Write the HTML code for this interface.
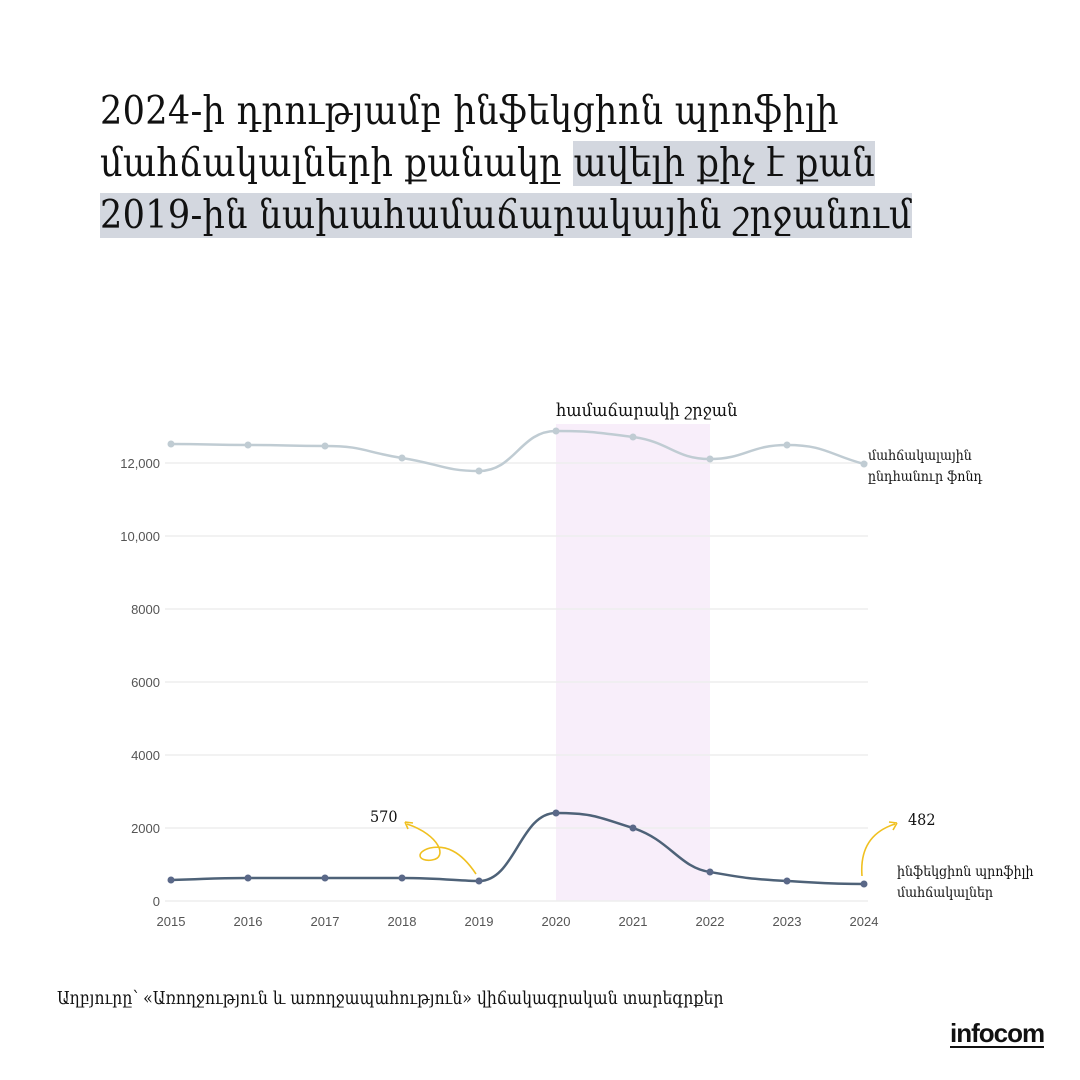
<!DOCTYPE html>
<html><head><meta charset="utf-8"><style>
html,body{margin:0;padding:0;background:#fff;width:1080px;height:1080px;overflow:hidden}
.t{position:absolute;left:100px;top:86px;font-family:"DejaVu Serif","Liberation Serif",serif;font-stretch:condensed;font-size:39px;line-height:52px;color:#111;letter-spacing:0.3px}
.hl{background:#d3d7df}
svg{position:absolute;left:0;top:0}
</style></head><body>
<div class="t">2024-ի դրությամբ ինֆեկցիոն պրոֆիլի<br>մահճակալների  քանակը <span class="hl">ավելի քիչ է քան</span><br><span class="hl">2019-ին նախահամաճարակային շրջանում </span></div>
<svg width="1080" height="1080" xmlns="http://www.w3.org/2000/svg">
<rect x="556" y="424" width="154" height="477" fill="#f8eefa"/>
<g stroke="#eeeeee" stroke-width="1.5">
<line x1="165" y1="463" x2="868" y2="463"/><line x1="165" y1="536" x2="868" y2="536"/>
<line x1="165" y1="609" x2="868" y2="609"/><line x1="165" y1="682" x2="868" y2="682"/>
<line x1="165" y1="755" x2="868" y2="755"/><line x1="165" y1="828" x2="868" y2="828"/>
<line x1="165" y1="901" x2="868" y2="901"/></g>
<g font-family="Liberation Sans,sans-serif" font-size="13" fill="#555" text-anchor="end">
<text x="160" y="468">12,000</text><text x="160" y="541">10,000</text><text x="160" y="614">8000</text>
<text x="160" y="687">6000</text><text x="160" y="760">4000</text><text x="160" y="833">2000</text><text x="160" y="906">0</text></g>
<g font-family="Liberation Sans,sans-serif" font-size="13" fill="#555" text-anchor="middle">
<text x="171" y="926">2015</text><text x="248" y="926">2016</text><text x="325" y="926">2017</text><text x="402" y="926">2018</text><text x="479" y="926">2019</text><text x="556" y="926">2020</text><text x="633" y="926">2021</text><text x="710" y="926">2022</text><text x="787" y="926">2023</text><text x="864" y="926">2024</text></g>
<path d="M171,444 C210,444 210,445 248,445 C287,445 287,446 325,446 C364,446 364,452 402,458 C440,464 445,471 479,471 C515,471 520,431 556,431 C595,431 600,433 633,437 C670,442 675,459 710,459 C745,459 750,445 787,445 C825,445 830,455 864,464" fill="none" stroke="#c0ccd3" stroke-width="2.5"/>
<g fill="#c0ccd3"><circle cx="171" cy="444" r="3.5"/><circle cx="248" cy="445" r="3.5"/><circle cx="325" cy="446" r="3.5"/><circle cx="402" cy="458" r="3.5"/><circle cx="479" cy="471" r="3.5"/><circle cx="556" cy="431" r="3.5"/><circle cx="633" cy="437" r="3.5"/><circle cx="710" cy="459" r="3.5"/><circle cx="787" cy="445" r="3.5"/><circle cx="864" cy="464" r="3.5"/></g>
<path d="M171,880 C210,879 210,878 248,878 L402,878 C440,878 460,881 479,881 C515,881 520,813 556,813 C595,813 600,818 633,828 C670,840 680,868 710,872 C745,878 750,879 787,881 C825,883 830,884 864,884" fill="none" stroke="#4e6278" stroke-width="2.5"/>
<g fill="#5a6888"><circle cx="171" cy="880" r="3.5"/><circle cx="248" cy="878" r="3.5"/><circle cx="325" cy="878" r="3.5"/><circle cx="402" cy="878" r="3.5"/><circle cx="479" cy="881" r="3.5"/><circle cx="556" cy="813" r="3.5"/><circle cx="633" cy="828" r="3.5"/><circle cx="710" cy="872" r="3.5"/><circle cx="787" cy="881" r="3.5"/><circle cx="864" cy="884" r="3.5"/></g>
<g fill="none" stroke="#f0c020" stroke-width="1.6">
<path d="M476,874 C460,850 445,845 430,848 C415,852 418,862 432,860 C448,858 440,835 407,824"/>
<path d="M405,822 l8,1 M405,822 l3,7"/>
<path d="M862,876 C860,850 870,832 895,824"/>
<path d="M897,823 l-8,-1 M897,823 l-4,7"/>
</g>
<g font-family="DejaVu Serif,Liberation Serif,serif" fill="#111" style="font-stretch:condensed">
<text x="370" y="822" font-size="16">570</text>
<text x="908" y="825" font-size="16">482</text>
<text x="556" y="416" font-size="18">համաճարակի շրջան</text>
<text x="868" y="460" font-size="14">մահճակալային</text>
<text x="868" y="481" font-size="14">ընդհանուր  ֆոնդ</text>
<text x="897" y="876" font-size="14">ինֆեկցիոն պրոֆիլի</text>
<text x="897" y="897" font-size="14">մահճակալներ</text>
<text x="57" y="1004" font-size="17.5">Աղբյուրը՝ «Առողջություն և առողջապահություն» վիճակագրական տարեգրքեր</text>
</g>
<text x="950" y="1042" font-family="Liberation Sans,sans-serif" font-size="26" font-weight="bold" fill="#111" letter-spacing="-1">infocom</text>
<line x1="950" y1="1047" x2="1044" y2="1047" stroke="#111" stroke-width="2"/>
</svg>
</body></html>
